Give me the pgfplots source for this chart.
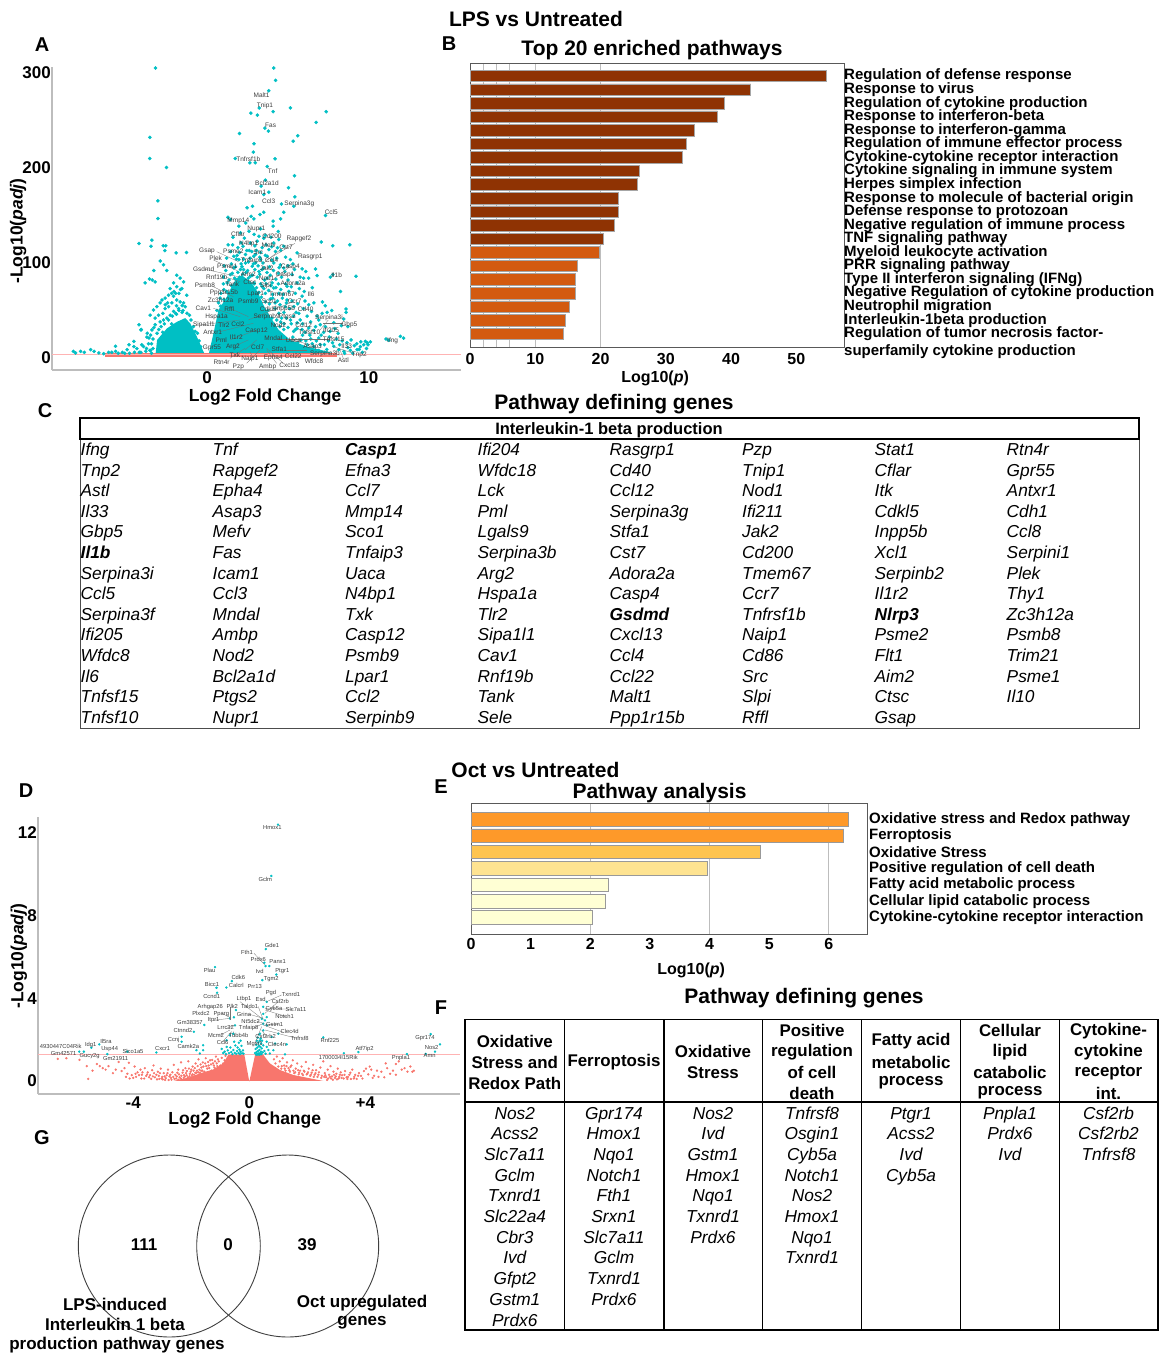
\documentclass[border=0pt]{standalone}
\usepackage{fontspec}
\setmainfont{Liberation Sans}
\usepackage{pgfplots}
\pgfplotsset{compat=1.18}

\definecolor{lpsteal}{HTML}{00BFC4}
\definecolor{nsred}{HTML}{F8766D}
\definecolor{cutline}{HTML}{FFB3B3}
\definecolor{axgray}{HTML}{BDBDBD}
\definecolor{labgray}{HTML}{3C3C3C}
\definecolor{bdark}{HTML}{8F3303}
\definecolor{bmid}{HTML}{D35A10}
\definecolor{eA}{HTML}{FE9929}
\definecolor{eB}{HTML}{FEC44F}
\definecolor{eC}{HTML}{FEE391}
\definecolor{eD}{HTML}{FFFFD4}

\newcommand{\fs}[1]{\fontsize{#1}{#1}\selectfont}

\pgfplotsset{
  volcano/.style={
    scale only axis, axis x line*=bottom, axis y line*=left,
    axis line style={-,draw=axgray,line width=1.4pt},
    major tick length=0pt,
    tick label style={font=\bfseries\fs{17}},
    /pgf/number format/assume math mode=true,
    yticklabel style={inner sep=0pt,xshift=-1pt},
    xticklabel style={inner sep=0pt,yshift=-1pt},
  },
  pathbar/.style={
    scale only axis, y dir=reverse, xbar, bar shift=0pt,
    axis line style={draw=black!65,line width=.9pt},
    major tick length=0pt,
    xmajorgrids, grid style={draw=axgray,line width=.9pt},
    tick label style={font=\bfseries\fs{16}},
    /pgf/number format/assume math mode=true,
    extra x tick style={grid=none},
    ymajorticks=true, yticklabel pos=right,
    yticklabel style={font=\bfseries\fs{15},anchor=west,inner sep=0pt},
  },
}

\begin{document}
\begin{tikzpicture}
\useasboundingbox (0pt,0pt) rectangle (1159pt,-1355pt);

% A volcano LPS
\begin{axis}[volcano, at={(52pt,-370pt)}, anchor=south west, width=409pt, height=303pt,
  xmin=-9.6, xmax=15.7, ymin=-12.6, ymax=306,
  xtick={0,10}, ytick={0,100,200,300},
  xlabel={Log2 Fold Change}, ylabel={-Log10(\textit{padj})},
  every axis x label/.style={at={(axis description cs:.521,-.089)},anchor=center,font=\bfseries\fs{17.5}},
  every axis y label/.style={at={(axis description cs:-.083,.459)},rotate=90,anchor=center,font=\bfseries\fs{17.5}},
]
% dense part of the cloud, down-regulated
\addplot[fill=lpsteal,draw=none,forget plot] coordinates {
 (-3.2,3)(-3.1,19)(-2.5,31)(-1.88,38)(-1.36,42)(-1.05,36.5)(-.64,22.5)(-.23,6.7)(-.12,3)} --cycle;
% dense part of the cloud, up-regulated
\addplot[fill=lpsteal,draw=none,forget plot] coordinates {
 (.08,3)(.39,26)(.7,50.5)(1.22,64.5)(1.6,78)(1.84,84)(2.14,87)(2.7,80)(3.1,70)(3.5,55)(3.95,42)(4.4,30)(5.13,19)(6.16,12)(7.4,7)(8.2,3)} --cycle;
\addplot[only marks,mark=*,mark size=1.6pt,color=lpsteal] coordinates {
 (-3.2,305)(4.12,305)(4.23,292)(3.81,281)(3.22,263)(4.08,259)(5.15,263)(7.36,259)(2.7,257.5)(3.11,255.4)
 (6.74,247.7)(3.57,241.7)(3.79,238.6)(2,236.1)(5.6,233.7)(5.32,228)(2.89,225.3)(-3.55,232)(2.85,216.5)
 (-3.55,209.8)(1.73,209.8)(4.2,209.5)(2.64,205.3)(2.97,205.3)(-2.52,200.4)(3.71,201.4)(5.4,191.6)(3.6,187)
 (3.34,180.7)(5.03,179)(3.81,174.4)(3.5,172)(5.42,169.5)(-3.05,165.3)(4.6,162)(5.36,159.6)(2.8,159.6)
 (2.47,158)(4.74,153.3)(3.5,153.3)(3.26,150.9)(7.32,149.8)(2.72,149)(-3.05,146.7)(1.28,148)(1.44,145.6)
 (2.89,146.3)(4.08,143.9)(4.54,146.3)(2.39,142)(4.08,138.6)(1.96,138.6)(3.3,135.8)(2.58,133.3)(2.06,131.6)
 (3.2,128)(7.05,122)(7.77,118)(8.82,119)(-4.22,120.4)(-3.42,123.9)(-3.48,117.5)(-2.72,118)(-2.56,118)
 (-2.62,113)(-1.92,110.5)(-1.28,111)(-2.7,98)(-2.9,102)(-3.3,92)(-2.5,92)
 (-3.4,82)(-3.57,83)(-3.22,80)(-3.84,79)(-1.88,87)(-1.67,84)(-1.46,80)(-2.08,79)(-2.29,73)(-2.39,66)
 (-2.6,63)(-2.8,61)(-2.91,58)(-3.11,54)(-3.32,50.5)(-3.53,45)(-1.88,75)(-1.57,73)(-1.26,66)(-2.08,65)
 (-1.88,61)(-2.19,58)(-2.39,54)(-2.6,52)(-2.74,47)(-3.01,45)(-3.22,42)(-1.67,59)(-1.46,58)(-1.36,54)
 (-1.77,52)(-2.08,49)(-2.29,45)(-2.49,42)(-2.91,38)(-3.22,35)(-3.42,29.5)(-3.73,22)(-3.63,15)(-3.94,12)
 (-4.1,29.5)(-1.55,48)(-1.9,46)(-2.7,40)(-3,30)(-2.75,27)(-3.35,20)(-2.2,36)
 (-3.3,32)(-3.1,26)(-3.5,24)(-2.85,33)(-2.65,36)(-2.4,40)(-2.15,44)(-1.95,47)(-1.75,50)(-1.5,50)(-1.25,47)
 (-1.1,45)(-1,40)(-.85,33)(-.75,28)(-.6,26)(-.5,18)(-.4,12)(-2.2,68)(-2.05,70)(-1.95,68)(-1.75,68)(-1.65,72)
 (-2.45,58)(-2.6,56)(-1.9,55)(-1.55,55)(-3.55,8)(-3.8,7)(-4.1,6)(-3.35,10)(-3.45,5)(-4.5,6)(-5.1,5)(-5.5,5)(-5.9,6)
 (-8.28,7)(-8.14,5.3)(-7.83,7)(-7.6,6)(-7.21,8.8)(-7,7)(-6.7,5.3)(-6.4,4.6)(-6.1,6)(-5.67,12.3)(-5.67,7)
 (-5.25,6)(-4.84,14)(-4.95,8.8)(-4.53,17.5)(-4.53,12)(-4.22,35)(-4.08,30)(-3.71,26)(-3.6,21)(-4.35,10)
 (-4.05,14)(-3.75,10)(-3.45,15)(-3.5,8)(-4.8,5)(-4.2,6)
 (1.57,119)(2.1,121)(2.22,117.5)(2.68,121)(3.09,122.8)(3.5,126)(4.12,121)(4.43,124.6)(3.81,114)(4.22,112)
 (4.74,117.5)(5.56,110.5)(1.65,107)(1.96,103.5)(2.37,108.8)(2.88,107)(3.3,103.5)(3.71,107)(4.12,100)(4.53,98)
 (4.74,94.7)(5.15,103.5)(5.87,93.7)(6.7,93.7)(5.97,84)(6.28,84)(6.8,86.7)(5.25,87.7)(5.56,79)(4.94,75.4)
 (4.12,73.7)(4.43,68)(4.94,61)(5.36,54)(5.87,65)(6.28,56)(5.67,47)(6.18,44)(4.84,54)(4.43,47)(5.15,40)
 (5.46,30)(4.74,30)(7.62,85)(7.77,87.7)(9.2,86)(1.03,72)(1.24,79)(1.44,87.7)(1.65,94.7)(2.06,93)(1.03,61.4)
 (.82,54.4)(2.37,100)(2.78,96.5)(3.2,91)(3.71,84)(4.02,79)(3.4,75)(2.68,86)(2.37,80.7)(1.5,76)(1.8,82)(2.2,88)
 (2.9,78)(3.6,68)(3.9,62)(4.2,58)(4.6,42)(2.5,92)(3,100)(3.5,95)(2.1,99)(1.8,104)(2.6,113)(3.4,116)(1.3,68)
 (2.9,130)(3.6,129)(4.4,133)(1.6,127)(2.3,126)(3.95,127)
 (1.3,119)(1.9,116)(2.45,113)(2.95,118)(3.3,111)(3.65,119)(4,117)(4.55,113)(2,111)(2.75,112)(3.05,113)(4.35,116)(1.45,112)
 (1.2,105)(1.5,99)(1.85,108)(2.15,96)(2.25,104)(2.55,101)(2.85,99)(3,109)(3.15,97)(3.45,100)(3.6,108)(3.85,96)
 (4,103)(4.3,105)(4.45,95)(4.85,106)(5,97)(5.3,99)(1.05,97)(1.75,96)(2.65,105)(3.25,106)
 (1,85)(1.15,92)(1.35,82)(1.55,89)(1.7,84)(1.9,90)(2,85)(2.25,93)(2.4,90)(2.55,84)(2.8,87)(2.95,93)(3.1,85)
 (3.25,88)(3.4,93)(3.55,82)(3.7,90)(3.9,87)(4.1,92)(4.25,83)(4.4,89)(4.6,85)(4.8,91)(5,82)(5.4,93)(5.75,85)(6.1,91)
 (.85,68)(1,78)(1.2,70)(2.6,78)(2.75,72)(2.9,79)(3.05,74)(3.2,69)(3.3,78)(3.5,73)(3.65,78)(3.8,71)(3.95,76)
 (4.05,67)(4.25,74)(4.4,78)(4.55,72)(4.7,67)(4.85,78)(5.05,70)(5.2,75)(5.45,68)(5.7,73)(6,70)(6.5,74)
 (.7,58)(.6,50)(.8,63)(.95,55)(3.05,62)(3.2,57)(3.35,64)(3.45,52)(3.6,59)(3.75,50)(3.85,57)(4.05,63)(4.2,52)
 (4.35,60)(4.5,56)(4.65,63)(4.75,48)(4.9,58)(5.1,52)(5.25,60)(5.5,48)(5.6,57)(5.95,52)(6.05,60)(6.45,49)(6.6,58)(7.3,55)(7.7,50)
 (3.7,44)(3.9,38)(4,42)(4.15,35)(4.3,40)(4.5,33)(4.55,38)(4.75,36)(4.9,42)(5,32)(5.2,36)(5.35,44)(5.35,28)(5.55,31)
 (5.75,40)(5.9,36)(6.05,27)(6.4,38)(6.6,29)(6.9,40)(7.2,27)(7.6,28)(7.9,31)(8.1,26)(8.3,34)(8.7,33)
 (5.3,22)(5.6,16)(5.9,24)(6.1,18)(6.35,24)(6.5,15)(6.75,18)(7.05,24)(7.25,14)(7.55,22)(7.75,16)(8,20)(8.35,18)
 (8.65,16)(8.9,19)(9.25,15)(9.5,17)(9.95,14)(9.85,10)(9.4,9)(10.1,17)
 (8.25,70)(7.13,59)(8.59,51.6)(8.59,48)(7.42,48)(7.11,47)(6.8,44)(8.45,41)(7,35)(7.83,37)(7.31,33)(6.7,33)
 (6.28,31.6)(5.56,37)(5.87,30)(9.79,17.5)(9.68,14)(9.48,12)(9.27,8.8)(8.86,8)(8.45,7)(8.14,8.8)(11.06,20)
 (11.23,18.6)(11.95,22.8)(12.15,21)(7.83,12.3)(7,14)(6.6,12)(6.2,14)(5.8,19)(6.4,20)(6.9,21)(7.5,18)(8.2,14)
 (8.7,11)(9.1,13)(9.9,16)(7.4,9)(6.9,8)(8.5,5)(9,5)(9.6,6)
};
% non-significant genes along the threshold
\addplot[fill=nsred,draw=none,forget plot] coordinates {(-6.3,1)(-6.3,5.5)(8,5.5)(8,1)} --cycle;
\addplot[cutline,line width=1.3pt,forget plot] coordinates {(-9.6,3.5)(15.7,3.5)};
\end{axis}

% B top 20 pathways
\begin{axis}[pathbar, at={(470pt,-347pt)}, anchor=south west, width=374pt, height=284pt,
  xmin=0, xmax=57.3, ymin=.04, ymax=20.97,
  xtick={2,4,6,10,20}, xticklabels={,,,,},
  extra x ticks={0,10,20,30,40,50},
  xticklabel style={inner sep=0pt,yshift=-6pt},
  ytick={1,...,20},
  yticklabels={Regulation of defense response,Response to virus,Regulation of cytokine production,
    Response to interferon-beta,Response to interferon-gamma,Regulation of immune effector process,
    Cytokine-cytokine receptor interaction,Cytokine signaling in immune system,Herpes simplex infection,
    Response to molecule of bacterial origin,Defense response to protozoan,Negative regulation of immune process,
    TNF signaling pathway,Myeloid leukocyte activation,PRR signaling pathway,Type II interferon signaling (IFNg),
    Negative Regulation of cytokine production,Neutrophil migration,Interleukin-1beta production,
    Regulation of tumor necrosis factor-},
  xlabel={Log10(\textit{p})},
  every axis x label/.style={at={(axis description cs:.495,-.109)},anchor=center,font=\bfseries\fs{16}},
]
\addplot[draw=black!35,fill=bdark,line width=.7pt,bar width=11.5pt] coordinates {
 (54.6,1)(43.0,2)(38.9,3)(37.9,4)(34.3,5)(33.2,6)(32.5,7)(25.9,8)(25.6,9)(22.8,10)(22.7,11)(22.1,12)(20.5,13)};
\addplot[draw=black!35,fill=bmid,line width=.7pt,bar width=11.5pt] coordinates {
 (19.8,14)(16.5,15)(16.2,16)(16.2,17)(15.2,18)(14.6,19)(14.3,20)};
\end{axis}

% D volcano Oct
\begin{axis}[volcano, at={(38pt,-1094pt)}, anchor=south west, width=422pt, height=277pt,
  xmin=-7.28, xmax=7.26, ymin=-.63, ymax=12.77,
  xtick={-4,0,4}, xticklabels={-4,0,+4}, ytick={0,4,8,12},
  xticklabel style={yshift=-1.5pt},
  xlabel={Log2 Fold Change}, ylabel={-Log10(\textit{padj})},
  every axis x label/.style={at={(axis description cs:.49,-.095)},anchor=center,font=\bfseries\fs{17.5}},
  every axis y label/.style={at={(axis description cs:-.045,.498)},rotate=90,anchor=center,font=\bfseries\fs{17.5}},
]
\addplot[fill=nsred,draw=none,forget plot] coordinates {
 (-2.62,0)(-2.05,.18)(-1.7,.37)(-1.24,.56)(-.9,.85)(-.72,1.27)(-.17,1.27)(0,-.03)(.2,1.27)(.48,1.27)(.71,.85)(1.06,.53)(1.52,.29)(2.55,0)} --cycle;
\addplot[only marks,mark=*,mark size=.95pt,color=nsred] coordinates {
 (-6.6,1.07)(-6.3,1.1)(-5.85,1.02)(-5.6,.72)(-5.55,.1)(-5.4,.5)(-5.25,.82)(-5.15,.72)(-5.05,.62)(-4.95,.55)
 (-4.85,.72)(-4.7,.38)(-4.6,.55)(-4.5,.92)(-4.4,.48)(-4.3,.62)(-4.2,.35)(-4.15,.88)(-4.05,.28)(-3.95,.7)
 (-3.85,.42)(-3.75,.55)(-3.7,.3)(-3.6,.62)(-3.5,.42)(-3.45,.18)(-3.35,.52)(-3.3,.75)(-3.2,.3)(-3.15,.45)
 (-3.05,.6)(-3,.2)(-2.95,.38)(-2.85,.28)(-2.8,.55)(-2.7,.15)(-2.65,.42)(-2.6,.78)(-2.55,.3)(-2.45,.55)
 (-2.4,.18)(-2.35,.9)(-2.3,.4)(-2.25,.28)(-2.2,.62)(-2.15,.48)(-2.1,.95)(-2.05,.35)(-2,.55)(-1.95,.7)
 (-1.9,.3)(-1.85,.85)(-1.8,.5)(-1.75,1.05)(-1.7,.4)(-1.65,.65)(-1.6,.9)(-1.55,.45)(-1.5,1.1)(-1.45,.6)
 (-1.4,.75)(-1.35,1.0)(-1.3,.5)(-1.25,.85)(-1.2,.65)(-1.15,1.18)(-1.1,.72)(-1.05,.95)(-1,.75)(-.95,1.12)
 (-.9,.85)(-.85,1.0)(-.82,1.22)(-.75,1.1)(-.68,1.2)(-.6,1.25)
 (-3.9,.2)(-3.72,.12)(-3.55,.25)(-3.38,.1)(-3.25,.18)(-3.1,.1)(-2.98,.08)(-2.88,.14)(-2.78,.05)(-2.72,.3)(-2.62,.2)
 (-2.52,.12)(-2.48,.4)(-2.42,.32)(-2.36,.12)(-2.28,.52)(-2.22,.22)(-2.18,.38)(-2.12,.18)(-2.08,.6)(-2.02,.45)
 (-1.98,.25)(-1.92,.5)(-1.88,.62)(-1.82,.4)(-1.78,.72)(-1.72,.55)(-1.68,.8)(-1.62,.5)(-1.58,.7)(-1.52,.85)
 (-1.48,.72)(-1.42,.92)(-1.38,.62)(-1.32,.8)(-1.28,1.02)(-1.22,.75)(-1.18,.95)(-1.12,.85)(-1.08,1.05)
 (-4.25,.2)(-4.12,.12)(-4,.15)(-3.92,.35)(-3.8,.28)(-3.68,.42)(-3.62,.12)(-3.52,.32)(-3.42,.28)(-3.32,.22)(-3.28,.38)
 (-3.18,.08)(-3.12,.25)(-3.08,.38)(-3.02,.12)(-2.92,.22)(-2.9,.05)(-2.82,.38)(-2.75,.22)(-2.68,.06)(-2.58,.1)(-2.5,.22)
 (-2.44,.06)(-2.34,.25)(-2.32,.05)(-2.26,.15)(-2.16,.28)(-2.06,.22)(-1.96,.32)(-1.86,.4)(-1.76,.42)(-1.66,.5)
 (.85,1.05)(.9,.85)(.95,1.18)(1,.7)(1.05,.95)(1.1,.6)(1.15,1.1)(1.2,.75)(1.25,.5)(1.3,.9)(1.35,.62)(1.4,.45)
 (1.45,.75)(1.5,1.0)(1.55,.38)(1.6,.6)(1.65,.85)(1.7,.32)(1.75,.5)(1.8,.7)(1.85,.28)(1.9,.45)(1.95,.92)
 (2,.35)(2.05,.6)(2.1,.25)(2.15,.4)(2.2,.78)(2.25,.3)(2.3,.52)(2.35,.2)(2.4,.42)(2.45,.65)(2.5,.25)(2.55,.95)
 (2.6,.38)(2.65,.18)(2.7,.55)(2.75,.3)(2.8,.72)(2.85,.22)(2.9,.45)(2.95,.15)(3,.35)(3.05,.6)(3.1,.2)(3.15,.42)
 (3.2,.28)(3.3,.48)(3.35,.18)(3.45,.3)(3.55,.55)(3.62,.2)(3.7,.1)(3.78,.38)(3.85,.25)(3.95,.48)(4.02,.6)
 (4.1,.32)(4.2,.55)(4.3,.25)(4.4,.5)(4.45,.2)(4.55,.45)(4.65,.18)(4.75,.62)(4.85,.35)(4.95,.5)(5.05,.3)(5.15,.95)
 (5.25,.55)(5.35,.62)(5.45,.45)(5.55,.7)(5.62,.45)(5.67,.5)(5.05,.82)(4.7,.85)(4.15,.7)
 (1.12,.72)(1.22,.6)(1.28,.72)(1.38,.52)(1.42,.68)(1.52,.5)(1.58,.42)(1.68,.52)(1.72,.4)(1.82,.35)(1.88,.5)(1.98,.32)
 (2.02,.42)(2.12,.3)(2.18,.52)(2.22,.2)(2.28,.38)(2.38,.3)(2.48,.15)(2.58,.2)(2.62,.28)(2.72,.12)(2.82,.12)(2.92,.3)
 (3.02,.08)(3.12,.3)(3.25,.12)(3.4,.2)(3.5,.1)(3.65,.3)(3.9,.12)(4.25,.15)
 (2.68,.05)(2.78,.2)(2.88,.06)(2.98,.22)(3.08,.12)(3.18,.15)(3.28,.3)(3.38,.1)(3.48,.4)(3.6,.12)(3.75,.25)
};
\addplot[only marks,mark=*,mark size=1pt,color=lpsteal] coordinates {
 (.99,12.4)(.76,9.92)(.57,6.38)(.52,5.72)(.56,5.56)(.69,5.56)(-1.18,5.51)(.93,5.15)(.45,4.88)(-.6,4.83)
 (-.79,4.52)(-1.13,4.51)(-1.11,4.27)(.6,3.83)(.48,3.59)(-.46,3.43)(-.53,3.08)(-.67,3.03)(-1.55,2.71)
 (-1.91,2.38)(-2.33,2.14)(-2.33,1.9)(-3.2,1.38)(-4.2,1.42)(-5.44,1.61)(-5.17,1.77)(-4.89,1.3)(-5.86,1.42)
 (-5.7,1.42)(6.25,2.27)(6.57,1.77)(6.4,1.42)(6.08,1.31)(5.43,1.3)(3.76,1.4)(3.26,1.34)(2.55,2.11)(1.23,1.29)
 (1.29,1.77)(.48,3.25)(.6,3.09)(.54,2.93)(.43,3.01)(.48,2.77)(.6,2.69)(.48,2.45)(.37,2.29)(1,2.29)(.77,2.13)
 (.89,1.81)(.83,1.49)(.6,1.65)(.71,1.33)(-.49,2.69)(-.55,2.29)(-.67,2.21)(-.78,1.97)(-.78,1.65)(-1.59,1.73)
 (-1.59,1.49)(-1.82,1.49)(-1.7,1.33)
 (-.95,1.55)(-.9,1.35)(-.85,1.42)(-.8,1.3)(-.74,1.48)(-.7,1.35)(-.65,1.62)(-.62,1.4)(-.58,1.3)(-.55,1.5)
 (-.5,1.36)(-.48,1.72)(-.45,1.31)(-.42,1.45)(-.4,1.62)(-.37,1.35)(-.34,1.52)(-.32,1.3)(-.3,1.42)(-.27,1.7)
 (-.25,1.34)(-.22,1.48)(-.2,1.32)(-.36,1.85)(-.52,1.9)(-.3,1.95)
 (.2,1.35)(.22,1.55)(.24,1.75)(.25,1.4)(.26,1.95)(.27,1.3)(.28,1.62)(.29,2.1)(.3,1.45)(.31,1.85)(.32,1.33)
 (.33,1.7)(.34,2.25)(.35,1.5)(.36,1.95)(.37,1.35)(.38,1.65)(.39,2.05)(.4,1.42)(.41,1.82)(.42,1.3)(.43,1.58)
 (.44,1.95)(.46,1.38)(.48,1.72)(.52,1.45)(.56,1.32)(.6,1.9)(.66,1.5)(.24,1.28)(.3,1.28)(.36,1.28)
};
\addplot[cutline,line width=1.3pt,forget plot] coordinates {(-7.28,1.27)(7.26,1.27)};
\end{axis}

% E Oct pathways
\begin{axis}[pathbar, at={(471pt,-934pt)}, anchor=south west, width=396pt, height=131pt,
  xmin=0, xmax=6.64, ymin=.005, ymax=8,
  xtick={2,4,6}, xticklabels={,,},
  extra x ticks={0,1,2,3,4,5,6},
  xticklabel style={inner sep=0pt,yshift=-4pt},
  ytick={1,...,7},
  yticklabel style={xshift=2pt},
  yticklabels={Oxidative stress and Redox pathway,Ferroptosis,Oxidative Stress,Positive regulation of cell death,
    Fatty acid metabolic process,Cellular lipid catabolic process,Cytokine-cytokine receptor interaction},
  xlabel={Log10(\textit{p})},
  every axis x label/.style={at={(axis description cs:.556,-.275)},anchor=center,font=\bfseries\fs{16}},
]
\addplot[draw=black!40,fill=eA,line width=.8pt,bar width=13.5pt] coordinates {(6.33,1)(6.25,2)};
\addplot[draw=black!40,fill=eB,line width=.8pt,bar width=13.5pt] coordinates {(4.86,3)};
\addplot[draw=black!40,fill=eC,line width=.8pt,bar width=13.5pt] coordinates {(3.96,4)};
\addplot[draw=black!40,fill=eD,line width=.8pt,bar width=13.5pt] coordinates {(2.31,5)(2.25,6)(2.03,7)};
\end{axis}

% text, tables and venn, positions in picture pixels
\begin{scope}[x=1pt,y=-1pt]
\foreach \l/\xx/\yy in {A/42/45,B/449/44,C/45/411,D/26/791,E/441/787,F/441/1008,G/42/1138}
  \node[font=\bfseries\fs{20},inner sep=0] at (\xx,\yy) {\l};
\foreach \xx/\yy/\t in {536/19/LPS vs Untreated,652/50/Top 20 enriched pathways,614/404/Pathway defining genes,
    535.5/770/Oct vs Untreated,659.5/793/Pathway analysis,804/998/Pathway defining genes}
  \node[font=\bfseries\fs{21},inner sep=0] at (\xx,\yy) {\t};
\node[font=\bfseries\fs{15},inner sep=0,anchor=west] at (844,351.5) {superfamily cytokine production};

% C table
\draw[black!70,line width=1pt] (80,418) rectangle (1139,728);
\draw[black,line width=1.8pt] (80,418) rectangle (1139,439);
\node[font=\bfseries\fs{16.5},inner sep=0] at (609,430.5) {Interleukin-1 beta production};
\foreach \xx/\col in {
  80.5/{Ifng,Tnp2,Astl,Il33,Gbp5,{\bfseries Il1b},Serpina3i,Ccl5,Serpina3f,Ifi205,Wfdc8,Il6,Tnfsf15,Tnfsf10},
  212.5/{Tnf,Rapgef2,Epha4,Asap3,Mefv,Fas,Icam1,Ccl3,Mndal,Ambp,Nod2,Bcl2a1d,Ptgs2,Nupr1},
  345/{{\bfseries Casp1},Efna3,Ccl7,Mmp14,Sco1,Tnfaip3,Uaca,N4bp1,Txk,Casp12,Psmb9,Lpar1,Ccl2,Serpinb9},
  477.5/{Ifi204,Wfdc18,Lck,Pml,Lgals9,Serpina3b,Arg2,Hspa1a,Tlr2,Sipa1l1,Cav1,Rnf19b,Tank,Sele},
  609.5/{Rasgrp1,Cd40,Ccl12,Serpina3g,Stfa1,Cst7,Adora2a,Casp4,{\bfseries Gsdmd},Cxcl13,Ccl4,Ccl22,Malt1,Ppp1r15b},
  742/{Pzp,Tnip1,Nod1,Ifi211,Jak2,Cd200,Tmem67,Ccr7,Tnfrsf1b,Naip1,Cd86,Src,Slpi,Rffl},
  874.5/{Stat1,Cflar,Itk,Cdkl5,Inpp5b,Xcl1,Serpinb2,Il1r2,{\bfseries Nlrp3},Psme2,Flt1,Aim2,Ctsc,Gsap},
  1006.5/{Rtn4r,Gpr55,Antxr1,Cdh1,Ccl8,Serpini1,Plek,Thy1,Zc3h12a,Psmb8,Trim21,Psme1,Il10}}
  \foreach \g [count=\r] in \col
    \node[font=\itshape\fs{17.3},inner sep=0,anchor=base west] at (\xx,{455.5+20.6*(\r-1)}) {\g};

% F table
\draw[black,line width=1.8pt] (465,1019.5) rectangle (1158,1330);
\draw[black,line width=1.8pt] (465,1102) -- (1158,1102);
\foreach \xx in {564.6,663.8,762.6,861.4,960.7,1059.5}
  \draw[black,line width=1.5pt] (\xx,1019.5) -- (\xx,1330);
\foreach \xx/\yy/\t in {
  514.8/1041/Oxidative,514.8/1062/Stress and,514.8/1083/Redox Path,
  614/1062/Ferroptosis,
  713/1051.7/Oxidative,713/1072.3/Stress,
  812/1030.7/Positive,812/1051.7/regulation,812/1072.3/of cell,812/1093/death,
  911/1041/Fatty acid,911/1062/metabolic,911/1083/process,
  1010/1030.7/Cellular,1010/1051.7/lipid,1010/1072.3/catabolic,1010/1093/process,
  1108.5/1030.7/Cytokine-,1108.5/1051.7/cytokine,1108.5/1072.3/receptor,1108.5/1093/int.}
  \node[font=\bfseries\fs{16.9},inner sep=0] at (\xx,\yy) {\t};
\foreach \xx/\col in {
  514.8/{Nos2,Acss2,Slc7a11,Gclm,Txnrd1,Slc22a4,Cbr3,Ivd,Gfpt2,Gstm1,Prdx6},
  614/{Gpr174,Hmox1,Nqo1,Notch1,Fth1,Srxn1,Slc7a11,Gclm,Txnrd1,Prdx6},
  713/{Nos2,Ivd,Gstm1,Hmox1,Nqo1,Txnrd1,Prdx6},
  812/{Tnfrsf8,Osgin1,Cyb5a,Notch1,Nos2,Hmox1,Nqo1,Txnrd1},
  911/{Ptgr1,Acss2,Ivd,Cyb5a},
  1010/{Pnpla1,Prdx6,Ivd},
  1108.5/{Csf2rb,Csf2rb2,Tnfrsf8}}
  \foreach \g [count=\r] in \col
    \node[font=\itshape\fs{17.3},inner sep=0,anchor=base] at (\xx,{1119+20.7*(\r-1)}) {\g};

% G venn
\draw[black!75,line width=.9pt] (169.3,1246) circle[radius=91];
\draw[black!75,line width=.9pt] (287.7,1246) circle[radius=91];
\foreach \xx/\t in {144/111,228/0,307/39}
  \node[font=\bfseries\fs{17},inner sep=0] at (\xx,1245) {\t};
\foreach \xx/\yy/\t in {115/1304/LPS-induced,115/1324/Interleukin 1 beta,117/1345/production pathway genes,
    362/1303/Oct upregulated,362/1323/genes}
  \node[font=\bfseries\fs{17},inner sep=0] at (\xx,\yy) {\t};
\end{scope}

% gene labels of A
\begin{scope}[shift={(0pt,-30pt)},x=.3333pt,y=-.3333pt]
\foreach \a/\b/\c/\d in {650/665/715/695,640/690/712/722,615/718/715/740,680/742/720/755,640/770/700/800,
   885/640/800/690,840/660/790/700,870/710/790/770,690/835/745/860,640/835/720/860,600/885/720/870,
   660/905/760/880,690/930/770/900,700/950/745/930,735/960/770/930,690/985/735/955,740/1000/780/960,
   800/955/850/1000,830/1000/800/960,880/815/745/870,835/927/990/927,880/930/930/945,1030/985/1020/960,
   1060/970/1000/950,760/985/750/965,860/960/920/960,985/870/960/900,1030/880/970/880}
  \draw[black!55,line width=.3pt] (\a,\b) -- (\c,\d);
\foreach \xx/\yy/\t in {785/195/Malt1,795/226/Tnip1,812/285/Fas,745/389/Tnfrsf1b,818/423/Tnf,801/461/Bcl2a1d,
  772/487/Icam1,806/513/Ccl3,898/521/Serpina3g,994/548/Ccl5,715/572/Mmp14,769/597/Nupr1,714/613/Cflar,
  816/619/Cd200,897/628/Rapgef2,746/641/N4bp1,806/645/Mefv,858/652/Cst7,621/662/Gsap,700/663/Psme2,775/668/Src,
  647/686/Plek,755/692/Tnfaip3,815/691/Ccl4,931/682/Rasgrp1,682/708/Psme1,871/710/Casp4,800/716/Jak2,
  611/717/Gsdmd,745/731/Aim2,650/741/Rnf19b,855/734/Casp1,800/744/Nod1,1010/735/Il1b,750/758/Ctsc,
  879/761/Adora2a,615/766/Psmb8,697/764/Tank,797/769/Slpi,672/790/Ppp1r15b,767/792/Lpar1,846/792/Tmem67,
  933/792/Il6,662/812/Zc3h12a,808/815/Sco1,745/815/Psmb9,884/815/Ccr7,610/834/Cav1,688/837/Rffl,805/838/Cdkl5,
  855/838/Inpp5b,917/837/Cd40,650/862/Hspa1a,800/862/Serpinb9,862/862/Ptgs2,987/863/Serpina3i,612/884/Sipa1l1,
  672/885/Tlr2,714/882/Ccl2,835/885/Nod2,911/885/Ccl12,1048/886/Gbp5,638/907/Antxr1,770/903/Casp12,993/902/Ifi205,
  928/906/Tnfsf10,709/921/Il1r2,820/926/Mndal,880/932/Uaca,1001/927/Tnfsf15,664/930/Pml,1178/933/Ifng,636/955/Gpr55,
  699/951/Arg2,773/953/Ccl7,838/957/Stfa1,938/950/Asap3,1040/950/Il33,880/979/Ccl22,975/973/Serpina3b,1078/974/Tnp2,
  705/977/Txk,1030/992/Astl,665/998/Rtn4r,750/988/Naip1,820/984/Epha4,942/995/Wfdc8,868/1006/Cxcl13,715/1011/Pzp,803/1011/Ambp}
  \node[font=\fs{6.5},text=labgray,inner sep=0] at (\xx,\yy) {\t};
\end{scope}

% gene labels of D
\begin{scope}[shift={(0pt,-780pt)},x=.3333pt,y=-.3333pt]
\foreach \a/\b/\c/\d in {762/520/795/555,845/645/800/665,835/665/795/700,720/665/785/715,775/680/790/720,
   745/702/790/715,880/688/795/685,860/710/795/690,770/723/790/730,835/733/790/735,760/745/790/730,850/757/790/735,
   890/775/795/750,690/680/690/720,665/700/690/712,640/721/690/715,680/745/705/735,660/766/690/750,705/768/700/755,
   665/788/695/755,765/790/785/740,800/770/785/750}
  \draw[black!55,line width=.3pt] (\a,\b) -- (\c,\d);
\foreach \xx/\yy/\t in {817/144/Hmox1,796/297/Gclm,816/496/Gde1,741/517/Fth1,775/538/Prdx6,833/546/Panx1,629/572/Plau,
  779/573/Ivd,847/574/Ptgr1,715/592/Cdk6,814/597/Tgm2,636/613/Bicc1,709/615/Calcrl,764/620/Prr13,635/649/Ccnd1,
  813/638/Pgd,873/643/Txnrd1,732/658/Ltbp1,782/657/Esd,841/665/Csf2rb,631/680/Arhgap26,697/680/Plk2,749/680/Taldo1,
  822/688/Cyb5a,888/688/Slc7a11,603/700/Plxdc2,664/701/Pparg,732/702/Grina,854/710/Notch1,641/721/Itpr1,752/723/Nt5dc2,
  570/727/Gm38357,824/733/Gstm1,677/744/Lrrc32,746/745/Tnfaip8,549/751/Ctnnd2,869/755/Clec4d,648/766/Mcm2,716/767/Tubb4b,
  797/769/Csf2rb2,899/775/Tnfrsf8,521/779/Ccnj,990/782/Rnf225,1275/774/Gpr174,182/800/4930447C04Rik,318/785/Il5ra,
  272/794/Idg1,399/814/Slco1a5,329/807/Usp44,565/800/Camk2a,668/788/Ccl6,764/792/Mgst1,831/792/Clec4n,488/806/Cxcr1,
  1094/807/Atf7ip2,1295/803/Nos2,191/821/Gm42571,269/828/Gucy2g,347/835/Gm21911,1015/832/1700034I15Rik,1203/834/Pnpla1,
  1289/827/Amn}
  \node[font=\fs{5.8},text=labgray,inner sep=0] at (\xx,\yy) {\t};
\end{scope}
\end{tikzpicture}
\end{document}
